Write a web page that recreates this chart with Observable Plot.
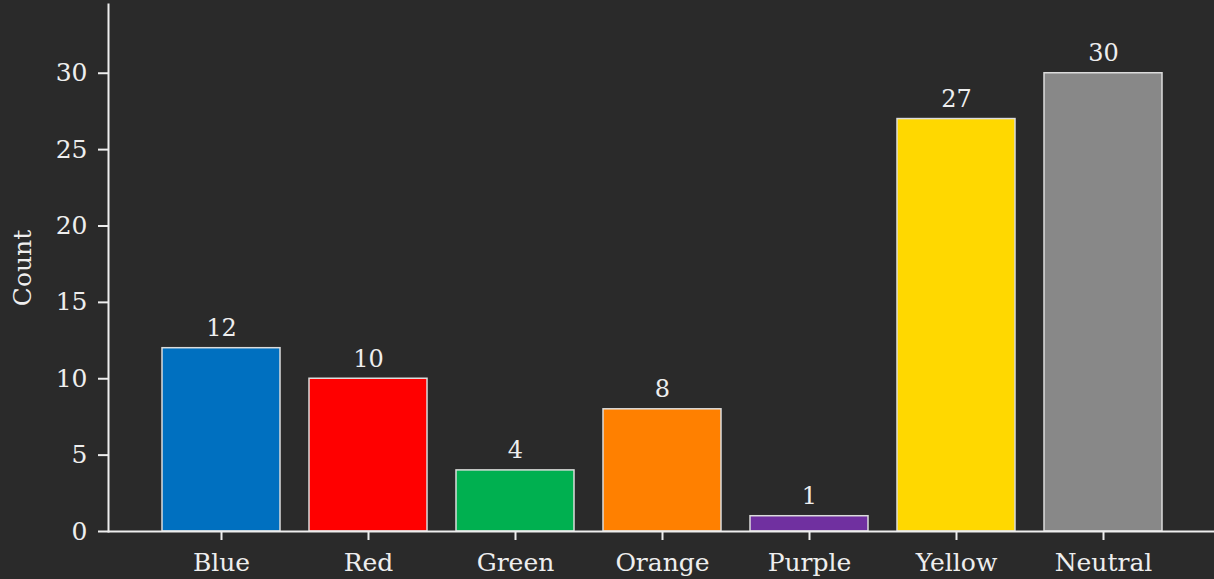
<!DOCTYPE html>
<html>
<head>
<meta charset="utf-8">
<script src="https://cdn.jsdelivr.net/npm/d3@7"></script>
<script src="https://cdn.jsdelivr.net/npm/@observablehq/plot@0.6"></script>
<style>
  html, body { margin: 0; padding: 0; background: #2a2a2a; }
  #chart { width: 1214px; height: 579px; }
</style>
</head>
<body>
<div id="chart"></div>
<script>
// Colour categories and how many times each was counted
const categories = ["Blue", "Red", "Green", "Orange", "Purple", "Yellow", "Neutral"];
const counts = [12, 10, 4, 8, 1, 27, 30];
const barColors = ["#0070c0", "#ff0000", "#00b050", "#ff8000", "#7030a0", "#ffd800", "#888888"];
const yTicks = [0, 5, 10, 15, 20, 25, 30];

const data = categories.map((c, i) => ({category: c, count: counts[i]}));

const ink = "#eeeeee";
const font = "DejaVu Serif";

const chart = Plot.plot({
  width: 1214,
  height: 579,
  marginLeft: 108,
  marginRight: 0,
  marginTop: 4,
  marginBottom: 48,
  style: {background: "#2a2a2a", color: ink, fontFamily: font, fontSize: "25px"},
  x: {domain: categories, padding: 0.2, range: [130.5, 1193.7]},
  y: {domain: [0, 34.5]},
  color: {domain: categories, range: barColors},
  marks: [
    Plot.barY(data, {x: "category", y: "count", fill: "category", stroke: "#dcdcdc", strokeWidth: 1.5}),
    Plot.text(data, {x: "category", y: "count", text: d => String(d.count), dy: -12, lineAnchor: "bottom", fill: ink, fontSize: 24}),
    // left spine of the plot frame
    Plot.frame({anchor: "left", stroke: ink, strokeWidth: 2}),
    Plot.ruleY([0], {stroke: ink, strokeWidth: 2}),
    Plot.axisY({ticks: yTicks, tickSize: 10, tickPadding: 11, tickFormat: d => String(d), fontSize: 25, stroke: ink, strokeWidth: 2, label: null}),
    Plot.axisX({tickSize: 9, tickPadding: 13, fontSize: 25, stroke: ink, strokeWidth: 2, label: null}),
    Plot.text(["Count"], {frameAnchor: "left", rotate: -90, dx: -86, lineAnchor: "middle", textAnchor: "middle", fill: ink, fontSize: 25})
  ]
});

document.getElementById("chart").appendChild(chart);
</script>
</body>
</html>
